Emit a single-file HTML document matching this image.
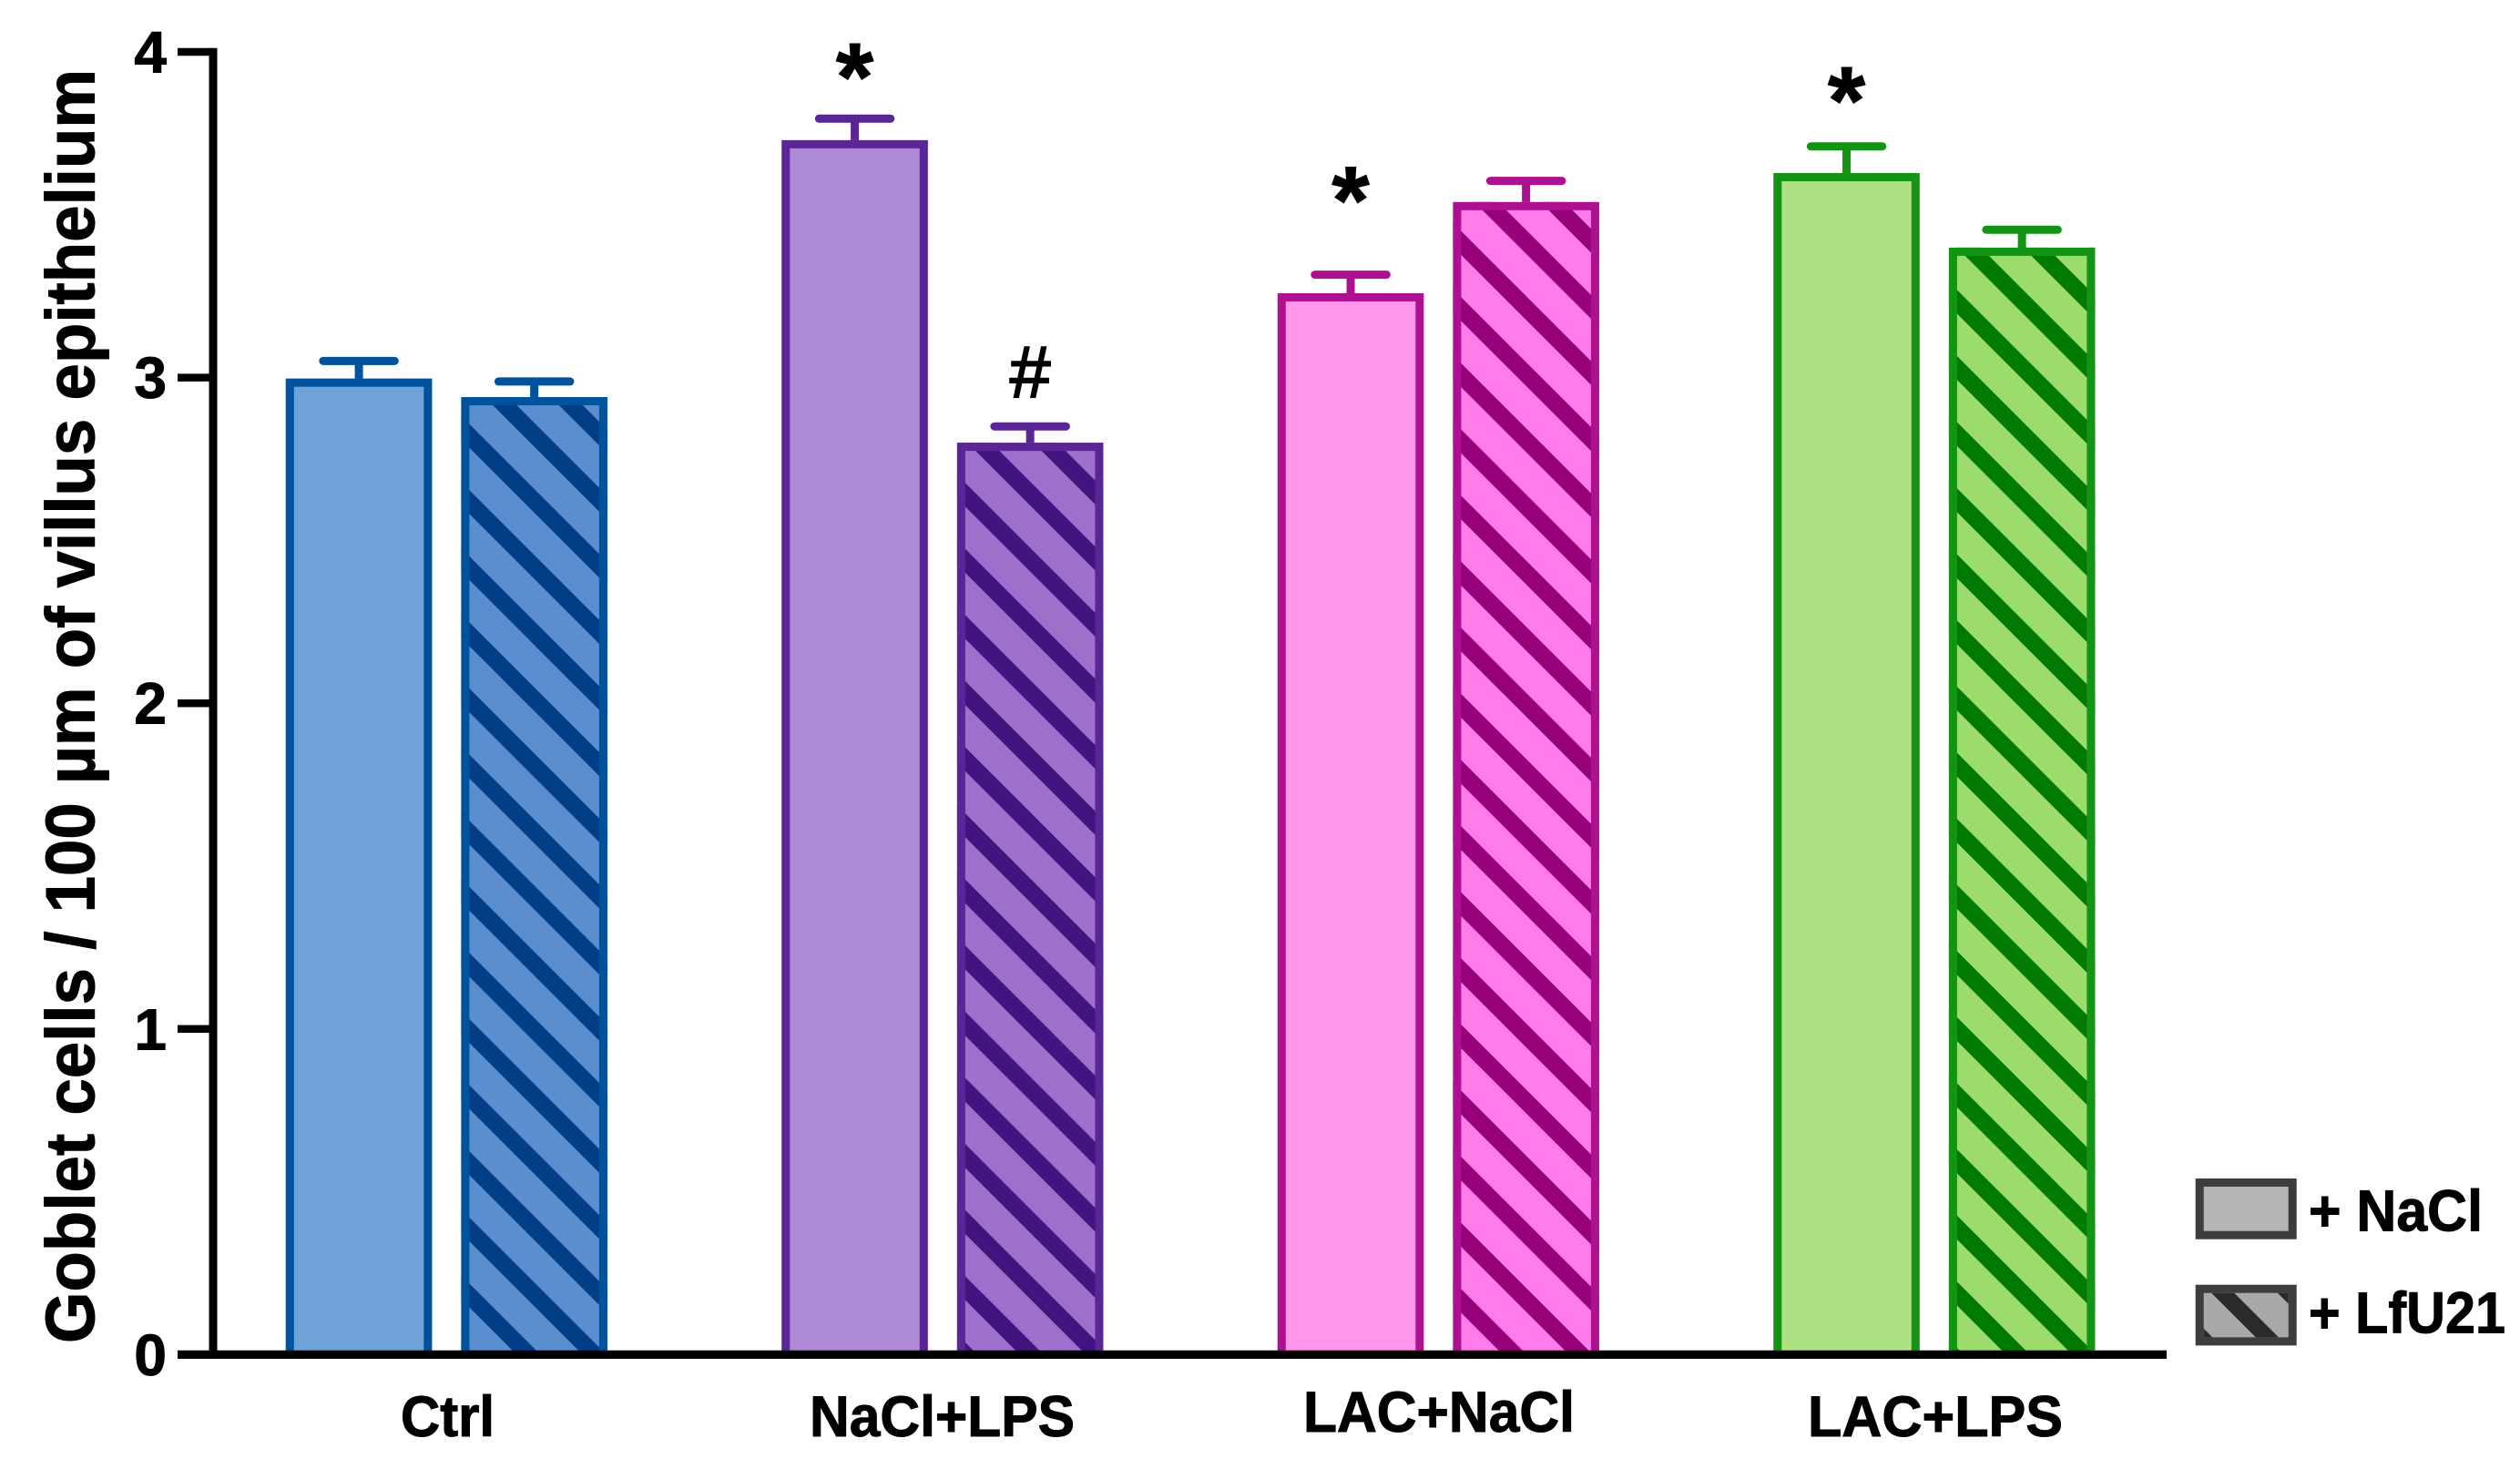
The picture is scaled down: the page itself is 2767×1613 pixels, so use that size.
<!DOCTYPE html>
<html lang="en">
<head>
<meta charset="utf-8">
<title>Goblet cells per 100 µm of villus epithelium</title>
<style>
  html, body { margin: 0; padding: 0; background: #ffffff; }
  svg { display: block; }
  text { font-family: "Liberation Sans", Arial, sans-serif; font-weight: bold; fill: #000000; stroke: #000000; stroke-width: 1; }
</style>
</head>
<body>
<svg id="chart" xmlns="http://www.w3.org/2000/svg" width="2767" height="1613" viewBox="0 0 2767 1613">
  <rect x="0" y="0" width="2767" height="1613" fill="#ffffff"/>
  <defs id="chart-defs"></defs>
  <g id="bars"></g>
  <g id="annotations"></g>
  <g id="axes"></g>
  <text transform="translate(103.5 1475) rotate(-90)" x="0" y="0" font-size="76" textLength="1399" lengthAdjust="spacingAndGlyphs">Goblet cells / 100 µm of villus epithelium</text>
  <text x="440" y="1577" font-size="63" textLength="103" lengthAdjust="spacingAndGlyphs">Ctrl</text>
  <text x="889" y="1577" font-size="63" textLength="291" lengthAdjust="spacingAndGlyphs">NaCl+LPS</text>
  <text x="1431" y="1572" font-size="63" textLength="298" lengthAdjust="spacingAndGlyphs">LAC+NaCl</text>
  <text x="1985" y="1577" font-size="63" textLength="280" lengthAdjust="spacingAndGlyphs">LAC+LPS</text>
  <g>
    <g>
      <rect x="2415.2" y="1298.5" width="102" height="57.7" fill="#b5b5b5" stroke="#3d3d3d" stroke-width="9"/>
      <text x="2535" y="1351.5" font-size="64" textLength="191" lengthAdjust="spacingAndGlyphs">+ NaCl</text>
    </g>
    <g>
      <clipPath id="legend-clip"><rect x="2419.7" y="1419.7" width="93" height="48.7"/></clipPath>
      <rect x="2415.2" y="1415.2" width="102" height="57.7" fill="#a9a9a9"/>
      <g clip-path="url(#legend-clip)">
        <line x1="2370" y1="1349" x2="2520" y2="1499" stroke="#2a2a2a" stroke-width="17.7"/>
        <line x1="2420" y1="1326.4" x2="2570" y2="1476.4" stroke="#2a2a2a" stroke-width="17.7"/>
        <line x1="2350" y1="1401.6" x2="2500" y2="1551.6" stroke="#2a2a2a" stroke-width="17.7"/>
      </g>
      <rect x="2415.2" y="1415.2" width="102" height="57.7" fill="none" stroke="#3d3d3d" stroke-width="9"/>
      <text x="2535" y="1463.3" font-size="64" textLength="216" lengthAdjust="spacingAndGlyphs">+ LfU21</text>
    </g>
  </g>
</svg>
<script>
// Chart data
const categories = ["Ctrl", "NaCl+LPS", "LAC+NaCl", "LAC+LPS"];
const naclValues = [2.997, 3.729, 3.259, 3.628];
const lfuValues = [2.94, 2.80, 3.539, 3.399];
const naclErrors = [0.054, 0.066, 0.057, 0.082];
const lfuErrors = [0.048, 0.05, 0.065, 0.055];
const yTicks = [0, 1, 2, 3, 4];
const starLabels = ["", "*", "*", "*"];
const starLevels = [0, 3.916, 3.537, 3.844];
const hashLabels = ["", "#", "", ""];
const hashLevels = [0, 2.94, 0, 0];

// Styling per group
const naclFills = ["#6fa2d6", "#ae8ad6", "#ff96ec", "#aee084"];
const lfuFills = ["#5b8ecf", "#9d70cc", "#ff7cea", "#9cdc6c"];
const strokes = ["#00529c", "#5a2595", "#ad1190", "#149414"];
const stripes = ["#023e86", "#42147f", "#960079", "#007a00"];
const hatchShift = [0, -8, 6, -2];

// Axis functions
const yZero = 1487.4;
const yUnit = 357.6;
function yScale(v) { return yZero - yUnit * v; }
const groupStart = 313.8;
const groupStep = 544.5;
const hatchOffset = 192.6;
const barWidth = 160.5;
function xScale(groupIndex, seriesIndex) {
  return groupStart + groupStep * groupIndex + seriesIndex * hatchOffset;
}

const NS = "http://www.w3.org/2000/svg";
const BORDER = 9;
const STRIPE_PERIOD = 72.6;
function mk(tag, attrs, parent) {
  const el = document.createElementNS(NS, tag);
  for (const k in attrs) el.setAttribute(k, attrs[k]);
  parent.appendChild(el);
  return el;
}

const barsG = document.getElementById("bars");
const defs = document.getElementById("chart-defs");
const annG = document.getElementById("annotations");
const axesG = document.getElementById("axes");

function drawBar(g, s, value, err) {
  const left = xScale(g, s);
  const top = yScale(value);
  const seriesName = s === 0 ? "nacl" : "lfu21";
  const slug = categories[g].toLowerCase().replace(/\+/g, "-");
  const group = mk("g", {}, barsG);
  
  

  const cx = left + barWidth / 2;
  const capY = yScale(value + err);
  const stem = mk("rect", { x: cx - 4.5, y: capY, width: 9, height: top - capY + 4, fill: strokes[g] }, group);
  
  
  const cap = mk("rect", { x: cx - 43.75, y: capY - 4.5, width: 87.5, height: 9, rx: 4.5, ry: 4.5, fill: strokes[g] }, group);
  
  

  const fill = mk("rect", {
    x: left, y: top, width: barWidth, height: yZero - top,
    fill: s === 0 ? naclFills[g] : lfuFills[g]
  }, group);
  
  

  if (s === 1) {
    const clipId = "clip-" + g;
    const clip = mk("clipPath", { id: clipId }, defs);
    mk("rect", { x: left, y: top, width: barWidth, height: yZero - top }, clip);
    const hatch = mk("g", { "clip-path": "url(#" + clipId + ")" }, group);
    
    
    const x0 = left + BORDER;
    const anchor = 1422.5 + hatchShift[g];
    for (let c = anchor + STRIPE_PERIOD; c > top - barWidth - 80; c -= STRIPE_PERIOD) {
      const stripe = mk("line", {
        x1: x0 - 30, y1: c - 30,
        x2: x0 + barWidth + 30, y2: c + barWidth + 30,
        stroke: stripes[g], "stroke-width": 18.5
      }, hatch);
      
      
    }
  }

  const border = mk("rect", {
    x: left + BORDER / 2, y: top + BORDER / 2,
    width: barWidth - BORDER, height: yZero - top - BORDER / 2,
    fill: "none", stroke: strokes[g], "stroke-width": BORDER
  }, group);
  
  
}

categories.forEach(function (c, g) {
  drawBar(g, 0, naclValues[g], naclErrors[g]);
  drawBar(g, 1, lfuValues[g], lfuErrors[g]);

  if (starLabels[g]) {
    const star = mk("text", {
      x: xScale(g, 0) + barWidth / 2,
      y: yScale(starLevels[g]) + 34,
      "font-size": 106,
      "text-anchor": "middle"
    }, annG);
    
    
    star.textContent = starLabels[g];
  }
  if (hashLabels[g]) {
    const hash = mk("text", {
      x: xScale(g, 1) + barWidth / 2,
      y: yScale(hashLevels[g]),
      "font-size": 80,
      "text-anchor": "middle",
      style: "font-weight:normal;stroke-width:2"
    }, annG);
    
    
    hash.textContent = hashLabels[g];
  }
});

// Axes
const yAxis = mk("rect", { x: 229.5, y: yScale(yTicks[yTicks.length - 1]) - 4.25, width: 9, height: yZero + 4.6 - yScale(yTicks[yTicks.length - 1]) + 4.25, fill: "#000" }, axesG);


const xAxis = mk("rect", { x: 195, y: yZero - 4.65, width: 2379 - 195, height: 9.3, fill: "#000" }, axesG);



yTicks.forEach(function (t) {
  const tick = mk("rect", { x: 195, y: yScale(t) - 4.25, width: 39, height: 8.5, fill: "#000" }, axesG);
  
  
  const label = mk("text", { x: 183, y: yScale(t) + 22.5, "font-size": 64, "text-anchor": "end" }, axesG);
  
  
  label.textContent = String(t);
});
</script>
</body>
</html>
